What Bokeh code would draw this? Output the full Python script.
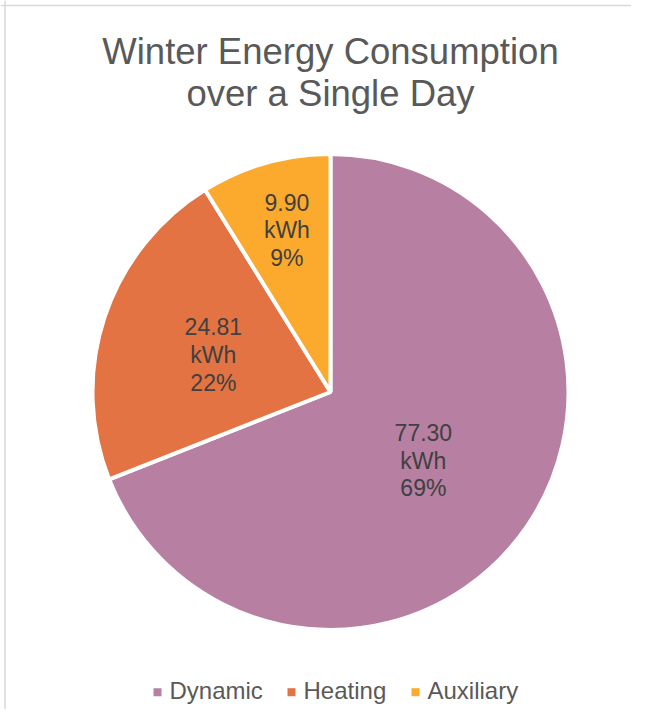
import math
from bokeh.plotting import figure
from bokeh.models import Span, ColumnDataSource
from bokeh.core.properties import value
from bokeh.embed import file_html
from bokeh.resources import INLINE

# ---- data ----
title_lines = ["Winter Energy Consumption", "over a Single Day"]
categories = ["Dynamic", "Heating", "Auxiliary"]
energy_kwh = [77.30, 24.81, 9.90]
colors = ["#B77FA1", "#E37342", "#FBAA2E"]

# ---- layout constants ----
W, H = 631, 709
CX, CY, R = 330, 317.5, 238
label_frac = [0.485, 0.516, 0.703]
label_dang_deg = [2.2, -0.8, 0.8]
FONT = "Liberation Sans"

total = sum(energy_kwh)
fracs = [v / total for v in energy_kwh]
cum = [0.0]
for f in fracs:
    cum.append(cum[-1] + f)

start_angles = [math.pi / 2 - 2 * math.pi * c for c in cum[:-1]]
end_angles = [math.pi / 2 - 2 * math.pi * c for c in cum[1:]]

mids = [(cum[i] + cum[i + 1]) / 2 * 2 * math.pi + math.radians(label_dang_deg[i])
        for i in range(len(energy_kwh))]
lx = [CX + label_frac[i] * R * math.sin(mids[i]) for i in range(len(mids))]
ly = [CY + label_frac[i] * R * math.cos(mids[i]) for i in range(len(mids))]
labels = [f"{v:.2f}\nkWh\n{round(f * 100)}%" for v, f in zip(energy_kwh, fracs)]

p = figure(width=W, height=H, x_range=(0, W), y_range=(0, H),
           output_backend="svg", toolbar_location=None, min_border=0)
p.axis.visible = False
p.grid.visible = False
p.outline_line_color = None
p.background_fill_color = "white"
p.border_fill_color = "white"

src = ColumnDataSource(dict(cat=categories, start=start_angles, end=end_angles,
                            color=colors))
p.wedge(x=CX, y=CY, radius=R, start_angle="start", end_angle="end",
        direction="clock", fill_color="color", line_color="white",
        line_width=4, source=src)

p.text(x=lx, y=ly, text=labels, text_align="center", text_baseline="middle",
       text_font=value(FONT), text_font_size="23px", text_color="#404040",
       text_line_height=1.07)

# title
title_y = [658.4 - 42.3 * i for i in range(len(title_lines))]
p.text(x=[CX] * len(title_lines), y=title_y, text=title_lines,
       text_align="center", text_baseline="alphabetic",
       text_font=value(FONT), text_font_size="36.5px", text_color="#595959")

# legend
leg_sq_x = [157, 291, 415]
leg_tx_x = [169, 303, 427]
p.scatter(x=leg_sq_x, y=[17.3] * 3, marker="square", size=8,
          fill_color=colors, line_color=None)
p.text(x=leg_tx_x, y=[18.7] * 3, text=categories, text_align="left",
       text_baseline="alphabetic", text_font=value(FONT),
       text_font_size="24px", text_color="#595959")

# chart border (top and left visible)
p.add_layout(Span(location=4.5, dimension="height", line_color="#D9D9D9", line_width=1.5))
p.add_layout(Span(location=H - 5, dimension="width", line_color="#D9D9D9", line_width=1.5))

open("out.html", "w").write(file_html(p, INLINE))
